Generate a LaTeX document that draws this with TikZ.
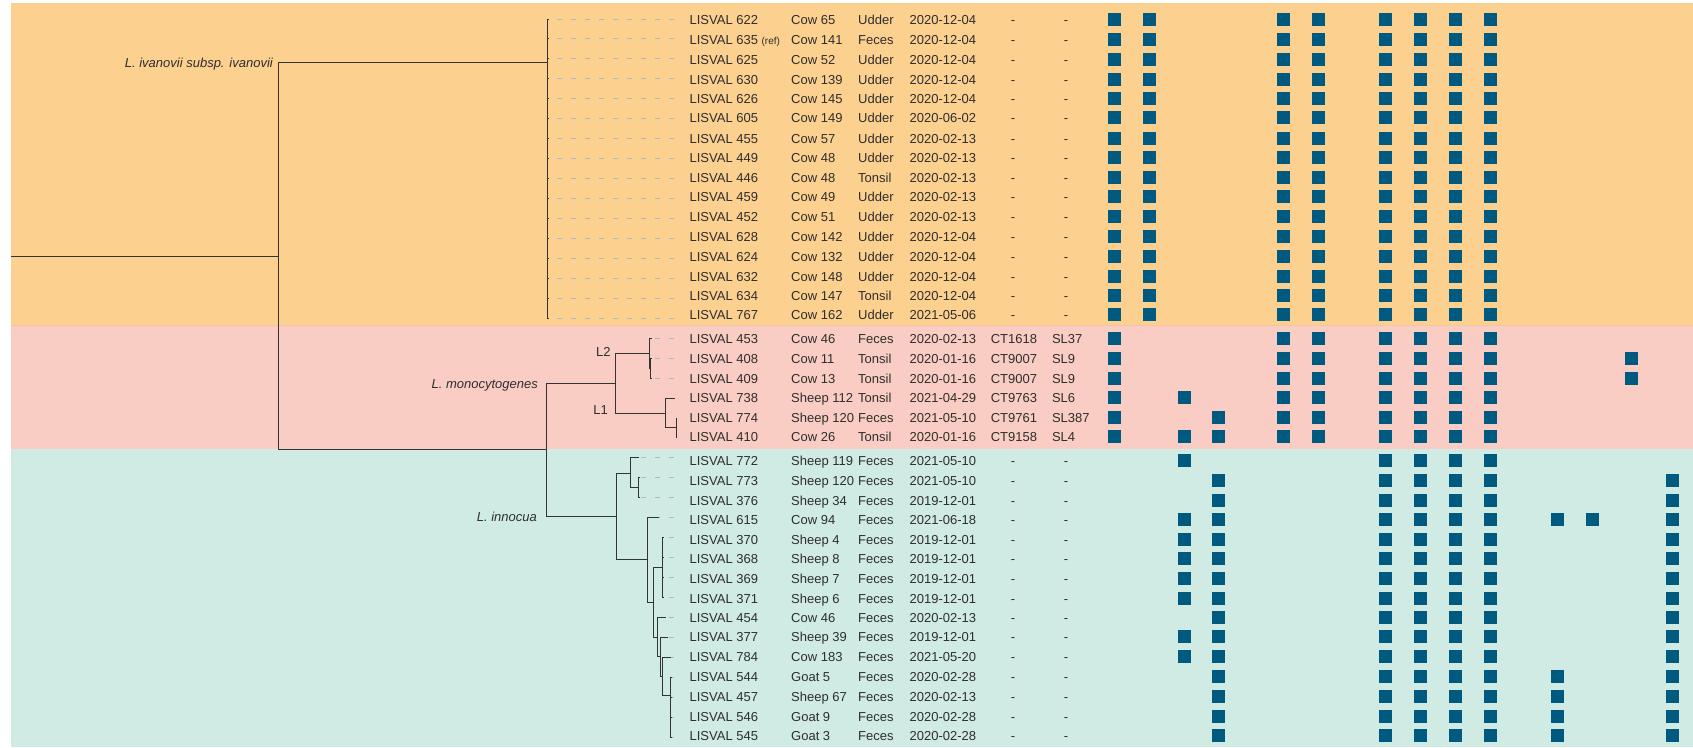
\documentclass[tikz,border=0pt]{standalone}
\usepackage{fontspec}
\setmainfont{Liberation Sans}
\definecolor{bandO}{HTML}{FCD08F}
\definecolor{bandP}{HTML}{F9CDC3}
\definecolor{bandT}{HTML}{D0EBE3}
\definecolor{bandEdge}{HTML}{F7C49E}
\definecolor{sqc}{HTML}{00597F}
\definecolor{txt}{HTML}{2E2E2E}
\definecolor{treec}{HTML}{333333}
\definecolor{leadc}{HTML}{AEB8C4}
\newcommand\lisref{{\fontsize{10}{12}\selectfont(ref)}}
\tikzset{
  cell/.style={anchor=base west, inner sep=0pt, text=txt, font=\fontsize{13}{15}\selectfont},
  dashcell/.style={anchor=base, inner sep=0pt, text=txt, font=\fontsize{13}{15}\selectfont},
  clade/.style={anchor=base east, inner sep=0pt, text=txt, font=\fontsize{13}{15}\selectfont\itshape},
  linlab/.style={anchor=base east, inner sep=0pt, text=txt, font=\fontsize{13}{15}\selectfont},
  branch/.style={draw=treec, line width=1pt},
  leader/.style={draw=leadc, line width=1pt, dash pattern=on 5.5pt off 8.5pt},
  hit/.style={fill=sqc, draw=none, minimum size=13pt, inner sep=0pt, anchor=center},
}
\begin{document}
\begin{tikzpicture}[x=1pt,y=-1pt]
\useasboundingbox (0,0) rectangle (1693,747);
\fill[white] (0,0) rectangle (1693,747);
\fill[bandO] (10.7,3) rectangle (1693,325);
\fill[bandP] (10.7,325) rectangle (1693,448.5);
\fill[bandT] (10.7,448.5) rectangle (1693,747);
\draw[bandEdge, line width=1pt] (10.7,325) -- (1693,325);

% ---------- table rows ----------
\foreach \k/\y/\id/\an/\ti/\da/\cols in {
1/19.5/622/Cow 65/Udder/2020-12-04/{1,2,5,6,7,8,9,10},
2/39.5/{635 \lisref}/Cow 141/Feces/2020-12-04/{1,2,5,6,7,8,9,10},
3/59.5/625/Cow 52/Udder/2020-12-04/{1,2,5,6,7,8,9,10},
4/79.5/630/Cow 139/Udder/2020-12-04/{1,2,5,6,7,8,9,10},
5/98.5/626/Cow 145/Udder/2020-12-04/{1,2,5,6,7,8,9,10},
6/117.5/605/Cow 149/Udder/2020-06-02/{1,2,5,6,7,8,9,10},
7/138.5/455/Cow 57/Udder/2020-02-13/{1,2,5,6,7,8,9,10},
8/157.5/449/Cow 48/Udder/2020-02-13/{1,2,5,6,7,8,9,10},
9/177.5/446/Cow 48/Tonsil/2020-02-13/{1,2,5,6,7,8,9,10},
10/196.5/459/Cow 49/Udder/2020-02-13/{1,2,5,6,7,8,9,10},
11/216.5/452/Cow 51/Udder/2020-02-13/{1,2,5,6,7,8,9,10},
12/236.5/628/Cow 142/Udder/2020-12-04/{1,2,5,6,7,8,9,10},
13/256.5/624/Cow 132/Udder/2020-12-04/{1,2,5,6,7,8,9,10},
14/276.5/632/Cow 148/Udder/2020-12-04/{1,2,5,6,7,8,9,10},
15/295.5/634/Cow 147/Tonsil/2020-12-04/{1,2,5,6,7,8,9,10},
16/314.5/767/Cow 162/Udder/2021-05-06/{1,2,5,6,7,8,9,10},
17/338.5/453/Cow 46/Feces/2020-02-13/{1,5,6,7,8,9,10},
18/358.5/408/Cow 11/Tonsil/2020-01-16/{1,5,6,7,8,9,10,13},
19/378.5/409/Cow 13/Tonsil/2020-01-16/{1,5,6,7,8,9,10,13},
20/397.5/738/Sheep 112/Tonsil/2021-04-29/{1,3,5,6,7,8,9,10},
21/417.5/774/Sheep 120/Feces/2021-05-10/{1,4,5,6,7,8,9,10},
22/436.5/410/Cow 26/Tonsil/2020-01-16/{1,3,4,5,6,7,8,9,10},
23/460.5/772/Sheep 119/Feces/2021-05-10/{3,7,8,9,10},
24/480.5/773/Sheep 120/Feces/2021-05-10/{4,7,8,9,10,14},
25/500.5/376/Sheep 34/Feces/2019-12-01/{4,7,8,9,10,14},
26/519.5/615/Cow 94/Feces/2021-06-18/{3,4,7,8,9,10,11,12,14},
27/539.5/370/Sheep 4/Feces/2019-12-01/{3,4,7,8,9,10,14},
28/558.5/368/Sheep 8/Feces/2019-12-01/{3,4,7,8,9,10,14},
29/578.5/369/Sheep 7/Feces/2019-12-01/{3,4,7,8,9,10,14},
30/598.5/371/Sheep 6/Feces/2019-12-01/{3,4,7,8,9,10,14},
31/617.5/454/Cow 46/Feces/2020-02-13/{4,7,8,9,10,14},
32/636.5/377/Sheep 39/Feces/2019-12-01/{3,4,7,8,9,10,14},
33/656.5/784/Cow 183/Feces/2021-05-20/{3,4,7,8,9,10,14},
34/676.5/544/Goat 5/Feces/2020-02-28/{4,7,8,9,10,11,14},
35/696.5/457/Sheep 67/Feces/2020-02-13/{4,7,8,9,10,11,14},
36/716.5/546/Goat 9/Feces/2020-02-28/{4,7,8,9,10,11,14},
37/735.5/545/Goat 3/Feces/2020-02-28/{4,7,8,9,10,11,14}}
{
  \node[cell] (id\k) at (689.4,\y+4.7) {LISVAL \id};
  \node[cell] (an\k) at (791,\y+4.7) {\an};
  \node[cell] (ti\k) at (858,\y+4.7) {\ti};
  \node[cell] (da\k) at (909.5,\y+4.7) {\da};
  \foreach \c in \cols {
    \pgfmathtruncatemacro{\ci}{\c-1}
    \pgfmathsetmacro{\cx}{{1114.4,1149,1184,1218,1283,1318,1385,1420,1455,1490,1557,1592,1631,1672}[\ci]}
    \node[hit] (s\k-\c) at (\cx,\y) {};
  }
}
% CT / SL columns
\foreach \k/\y in {1/19.5,2/39.5,3/59.5,4/79.5,5/98.5,6/117.5,7/138.5,8/157.5,9/177.5,10/196.5,11/216.5,12/236.5,13/256.5,14/276.5,15/295.5,16/314.5,
23/460.5,24/480.5,25/500.5,26/519.5,27/539.5,28/558.5,29/578.5,30/598.5,31/617.5,32/636.5,33/656.5,34/676.5,35/696.5,36/716.5,37/735.5}
{
  \node[dashcell] (ct\k) at (1013,\y+4.7) {-};
  \node[dashcell] (sl\k) at (1066,\y+4.7) {-};
}
\foreach \k/\y/\ct/\sl in {17/338.5/CT1618/SL37,18/358.5/CT9007/SL9,19/378.5/CT9007/SL9,20/397.5/CT9763/SL6,21/417.5/CT9761/SL387,22/436.5/CT9158/SL4}
{
  \node[cell] (ct\k) at (990.6,\y+4.7) {\ct};
  \node[cell] (sl\k) at (1051.8,\y+4.7) {\sl};
}

% ---------- tree ----------
\foreach \k in {1,...,37} \coordinate (tip\k) at (674,{19+19.95*(\k-1)});
\foreach \k/\lx in {1/549,2/549,3/549,4/549,5/549,6/549,7/549,8/549,9/549,10/549,11/549,12/549,13/549,14/549,15/549,16/549,
17/652.3,18/652,19/652,20/674.7,21/676,22/676,23/639,24/639.5,25/639.5,26/659,27/664,28/664,29/664,30/664,
31/666.3,32/668.3,33/671,34/671.5,35/671.5,36/671.5,37/671.5}
  \coordinate (leaf\k) at (\lx,{19+19.95*(\k-1)});

\coordinate (root) at (10.7,256);
\coordinate (nR) at (278,256);
\coordinate (nIv) at (547,62.3);
\coordinate (nMI) at (546.5,449.7);
\coordinate (nMo) at (615.7,383.3);
\coordinate (nL2) at (649,353.3);
\coordinate (nL2b) at (650.7,368.3);
\coordinate (nL1) at (665.7,413);
\coordinate (nL1b) at (676,427.7);
\coordinate (nIn) at (616.3,516.3);
\coordinate (nU) at (630.3,473);
\coordinate (nU2) at (638.3,487.7);
\coordinate (nLo) at (647.3,559.7);
\coordinate (nB) at (653.7,602.3);
\coordinate (nC) at (662.3,567.3);
\coordinate (nD) at (657.3,637);
\coordinate (nE) at (660.3,656.7);
\coordinate (nF) at (662.3,676.7);
\coordinate (nG) at (670.7,695);

% leaders (dashed)
\foreach \k in {1,...,19,23,24,25,26,27,28,29,30,31,32,33,34,35,36,37}
  \draw[leader] (tip\k) -- (leaf\k);

% branches
\draw[branch] (root) -- (nR);
\draw[branch] (nR) |- (nIv);
\draw[branch] (nR) |- (nMI);
\foreach \k in {1,...,16} \draw[branch] (nIv) |- (leaf\k);
\draw[branch] (nMI) |- (nMo);
\draw[branch] (nMI) |- (nIn);
\draw[branch] (nMo) |- (nL2);
\draw[branch] (nMo) |- (nL1);
\draw[branch] (nL2) |- (leaf17);
\draw[branch] (nL2) |- (nL2b);
\draw[branch] (nL2b) |- (leaf18);
\draw[branch] (nL2b) |- (leaf19);
\draw[branch] (nL1) |- (leaf20);
\draw[branch] (nL1) |- (nL1b);
\draw[branch] (nL1b) |- (leaf21);
\draw[branch] (nL1b) |- (leaf22);
\draw[branch] (nIn) |- (nU);
\draw[branch] (nIn) |- (nLo);
\draw[branch] (nU) |- (leaf23);
\draw[branch] (nU) |- (nU2);
\draw[branch] (nU2) |- (leaf24);
\draw[branch] (nU2) |- (leaf25);
\draw[branch] (nLo) |- (leaf26);
\draw[branch] (nLo) |- (nB);
\draw[branch] (nB) |- (nC);
\draw[branch] (nB) |- (nD);
\foreach \k in {27,28,29,30} \draw[branch] (nC) |- (leaf\k);
\draw[branch] (nD) |- (leaf31);
\draw[branch] (nD) |- (nE);
\draw[branch] (nE) |- (leaf32);
\draw[branch] (nE) |- (nF);
\draw[branch] (nF) |- (leaf33);
\draw[branch] (nF) |- (nG);
\foreach \k in {34,35,36,37} \draw[branch] (nG) |- (leaf\k);

% clade labels
\node[clade] (labIv) at (273,62.3+4.7) {L. ivanovii subsp. ivanovii};
\node[clade] (labMo) at (538,383.3+4.7) {L. monocytogenes};
\node[clade] (labIn) at (537,516.3+4.7) {L. innocua};
\node[linlab] (labL2) at (610.7,351.7+4.7) {L2};
\node[linlab] (labL1) at (608,410+4.7) {L1};
\end{tikzpicture}
\end{document}
